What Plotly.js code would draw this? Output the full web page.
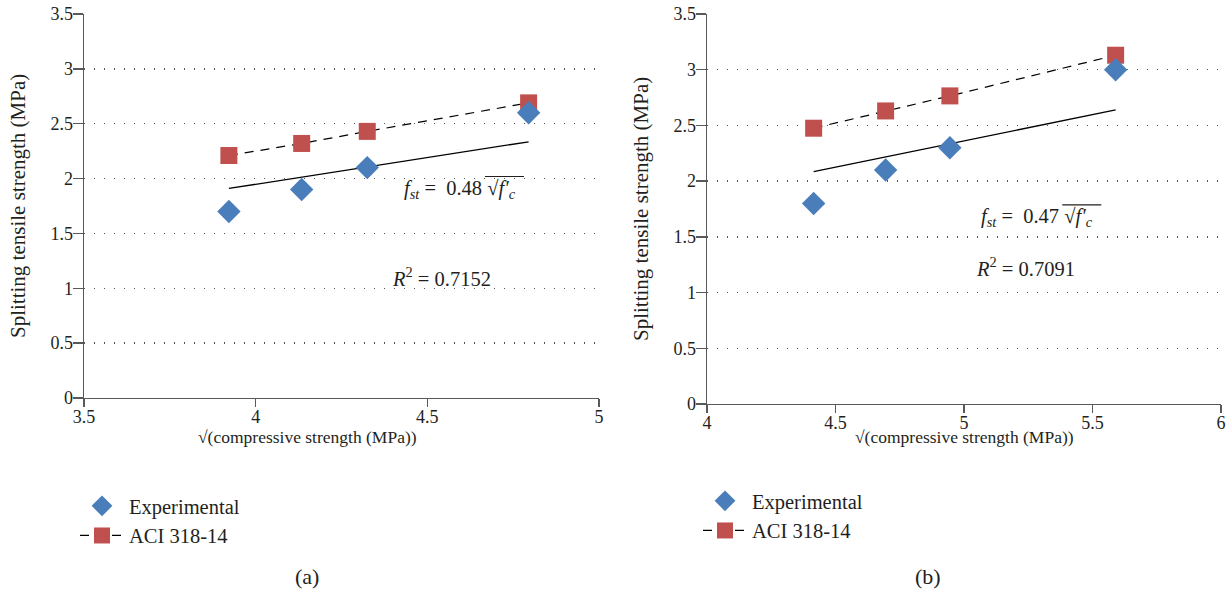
<!DOCTYPE html>
<html>
<head>
<meta charset="utf-8">
<script src="https://cdn.plot.ly/plotly-3.0.1.min.js"></script>
<style>html,body{margin:0;padding:0;background:#fff;}#chart{width:1230px;height:592px;}</style>
</head>
<body>
<div id="chart"></div>
<script>
// ---- Data ----
const seriesNames = ["Experimental", "ACI 318-14"];

// Panel (a)
const xA = [3.922, 4.134, 4.325, 4.795];
const expA = [1.70, 1.90, 2.10, 2.60];
const aciA = [2.21, 2.32, 2.43, 2.69];
const trendXA = [3.922, 4.795];
const trendYA = [1.91, 2.335];
const eqA = "0.48";
const r2A = "0.7152";

// Panel (b)
const xB = [4.415, 4.695, 4.945, 5.59];
const expB = [1.80, 2.10, 2.30, 3.00];
const aciB = [2.475, 2.63, 2.765, 3.13];
const trendXB = [4.415, 5.59];
const trendYB = [2.085, 2.64];
const eqB = "0.47";
const r2B = "0.7091";

const yTicks = [0, 0.5, 1, 1.5, 2, 2.5, 3, 3.5];
const yTickText = ["0", "0.5", "1", "1.5", "2", "2.5", "3", "3.5"];
const xTicksA = [3.5, 4, 4.5, 5];
const xTickTextA = ["3.5", "4", "4.5", "5"];
const xTicksB = [4, 4.5, 5, 5.5, 6];
const xTickTextB = ["4", "4.5", "5", "5.5", "6"];

const xTitle = "√(compressive strength (MPa))";
const yTitle = "Splitting tensile strength (MPa)";
const panelLabels = ["(a)", "(b)"];

// ---- Styling ----
const FONT = "Liberation Serif";
const TXT = "#231f20";
const AX = "#595959";
const BLUE = "#4a7ebb";
const RED = "#c0504d";

function traces(x, exp, aci, tx, ty, xa, ya, leg) {
  return [
    {x: tx, y: ty, xaxis: xa, yaxis: ya, mode: "lines", type: "scatter",
     line: {color: "#000", width: 1.3}, showlegend: false, hoverinfo: "skip"},
    {x: x, y: aci, xaxis: xa, yaxis: ya, mode: "lines+markers", type: "scatter",
     name: seriesNames[1], legend: leg, legendrank: 2, legendgroup: "aci" + leg,
     line: {color: "#000", width: 1.2, dash: "9px,7px"},
     marker: {symbol: "square", size: 17, color: RED}},
    {x: x, y: exp, xaxis: xa, yaxis: ya, mode: "markers", type: "scatter",
     name: seriesNames[0], legend: leg, legendrank: 1, legendgroup: "exp" + leg,
     marker: {symbol: "diamond", size: 18, color: BLUE}}
  ];
}

const data = [].concat(
  traces(xA, expA, aciA, trendXA, trendYA, "x", "y", "legend"),
  traces(xB, expB, aciB, trendXB, trendYB, "x2", "y2", "legend2")
);

function xAxis(range, tv, tt, domain, anchor) {
  return {
    domain: domain, anchor: anchor, range: range, tickmode: "array", tickvals: tv, ticktext: tt,
    showgrid: false, zeroline: false, showline: true, linecolor: AX, linewidth: 1.3,
    ticks: "outside", ticklen: 8, tickcolor: AX, tickwidth: 1.3, ticklabelstandoff: -6,
    tickfont: {family: FONT, size: 18, color: TXT}, automargin: false
  };
}
function yAxis(domain, anchor) {
  return {
    domain: domain, anchor: anchor, range: [0, 3.5], tickmode: "array", tickvals: yTicks, ticktext: yTickText,
    showgrid: true, gridcolor: "#555", gridwidth: 1.4, griddash: "1.4px,8.6px",
    zeroline: false, showline: true, linecolor: AX, linewidth: 1.3,
    ticks: "outside", ticklen: 10, tickcolor: AX, tickwidth: 1.3, ticklabelstandoff: -4,
    tickfont: {family: FONT, size: 18, color: TXT}, automargin: false
  };
}

function eqText(c) {
  return "<i>f</i><sub><i>st</i></sub> =  " + c + " √<i>f′</i><sub><i>c</i></sub>";
}
// overline (vinculum) of the radical, positioned in pixels relative to the equation anchor
function vinculum(xa, ya, ax, ay) {
  return {type: "line", xref: xa, yref: ya, xsizemode: "pixel", ysizemode: "pixel",
          xanchor: ax, yanchor: ay, x0: 25, x1: 64, y0: 13, y1: 13,
          line: {color: TXT, width: 1.1}};
}

const W = 1230, H = 592;
const eqPosA = [4.595, 1.90], r2PosA = [4.54, 1.10];
const eqPosB = [5.285, 1.67], r2PosB = [5.24, 1.23];
const tf = (s) => ({family: FONT, size: s, color: TXT});
function paperText(px, py, text, size, angle) {
  return {xref: "paper", yref: "paper", x: px / W, y: (H - py) / H, xanchor: "center", yanchor: "middle",
          text: text, textangle: angle || 0, showarrow: false, font: tf(size)};
}

const layout = {
  width: W, height: H,
  margin: {l: 0, r: 0, t: 0, b: 0},
  paper_bgcolor: "#fff", plot_bgcolor: "#fff",
  font: {family: FONT, color: TXT},
  xaxis: xAxis([3.5, 5], xTicksA, xTickTextA, [84 / W, 599 / W], "y"),
  yaxis: yAxis([(H - 398) / H, (H - 14) / H], "x"),
  xaxis2: xAxis([4, 6], xTicksB, xTickTextB, [707 / W, 1221 / W], "y2"),
  yaxis2: yAxis([(H - 404) / H, (H - 14) / H], "x2"),
  legend: {x: 75 / W, y: (H - 486) / H, xanchor: "left", yanchor: "top", bgcolor: "rgba(0,0,0,0)",
           font: tf(20.5), traceorder: "grouped", tracegroupgap: 0, itemwidth: 44},
  legend2: {x: 698 / W, y: (H - 481) / H, xanchor: "left", yanchor: "top", bgcolor: "rgba(0,0,0,0)",
           font: tf(20.5), traceorder: "grouped", tracegroupgap: 0, itemwidth: 44},
  shapes: [
    vinculum("x", "y", eqPosA[0], eqPosA[1]),
    vinculum("x2", "y2", eqPosB[0], eqPosB[1])
  ],
  annotations: [
    // axis titles
    paperText(307, 437, xTitle, 17.5),
    paperText(964, 437, xTitle, 17.5),
    paperText(18, 206, yTitle, 21, -90),
    paperText(641, 209, yTitle, 21, -90),
    // equations
    {xref: "x", yref: "y", x: eqPosA[0], y: eqPosA[1], xanchor: "center", yanchor: "middle",
     text: eqText(eqA), showarrow: false, font: tf(20.5)},
    {xref: "x", yref: "y", x: r2PosA[0], y: r2PosA[1], xanchor: "center", yanchor: "middle",
     text: "<i>R</i><sup>2</sup> = " + r2A, showarrow: false, font: tf(20.5)},
    {xref: "x2", yref: "y2", x: eqPosB[0], y: eqPosB[1], xanchor: "center", yanchor: "middle",
     text: eqText(eqB), showarrow: false, font: tf(20.5)},
    {xref: "x2", yref: "y2", x: r2PosB[0], y: r2PosB[1], xanchor: "center", yanchor: "middle",
     text: "<i>R</i><sup>2</sup> = " + r2B, showarrow: false, font: tf(20.5)},
    // panel labels
    paperText(307, 576, panelLabels[0], 22),
    paperText(928, 576, panelLabels[1], 22)
  ]
};

Plotly.newPlot("chart", data, layout, {staticPlot: true, displayModeBar: false});
</script>
</body>
</html>
